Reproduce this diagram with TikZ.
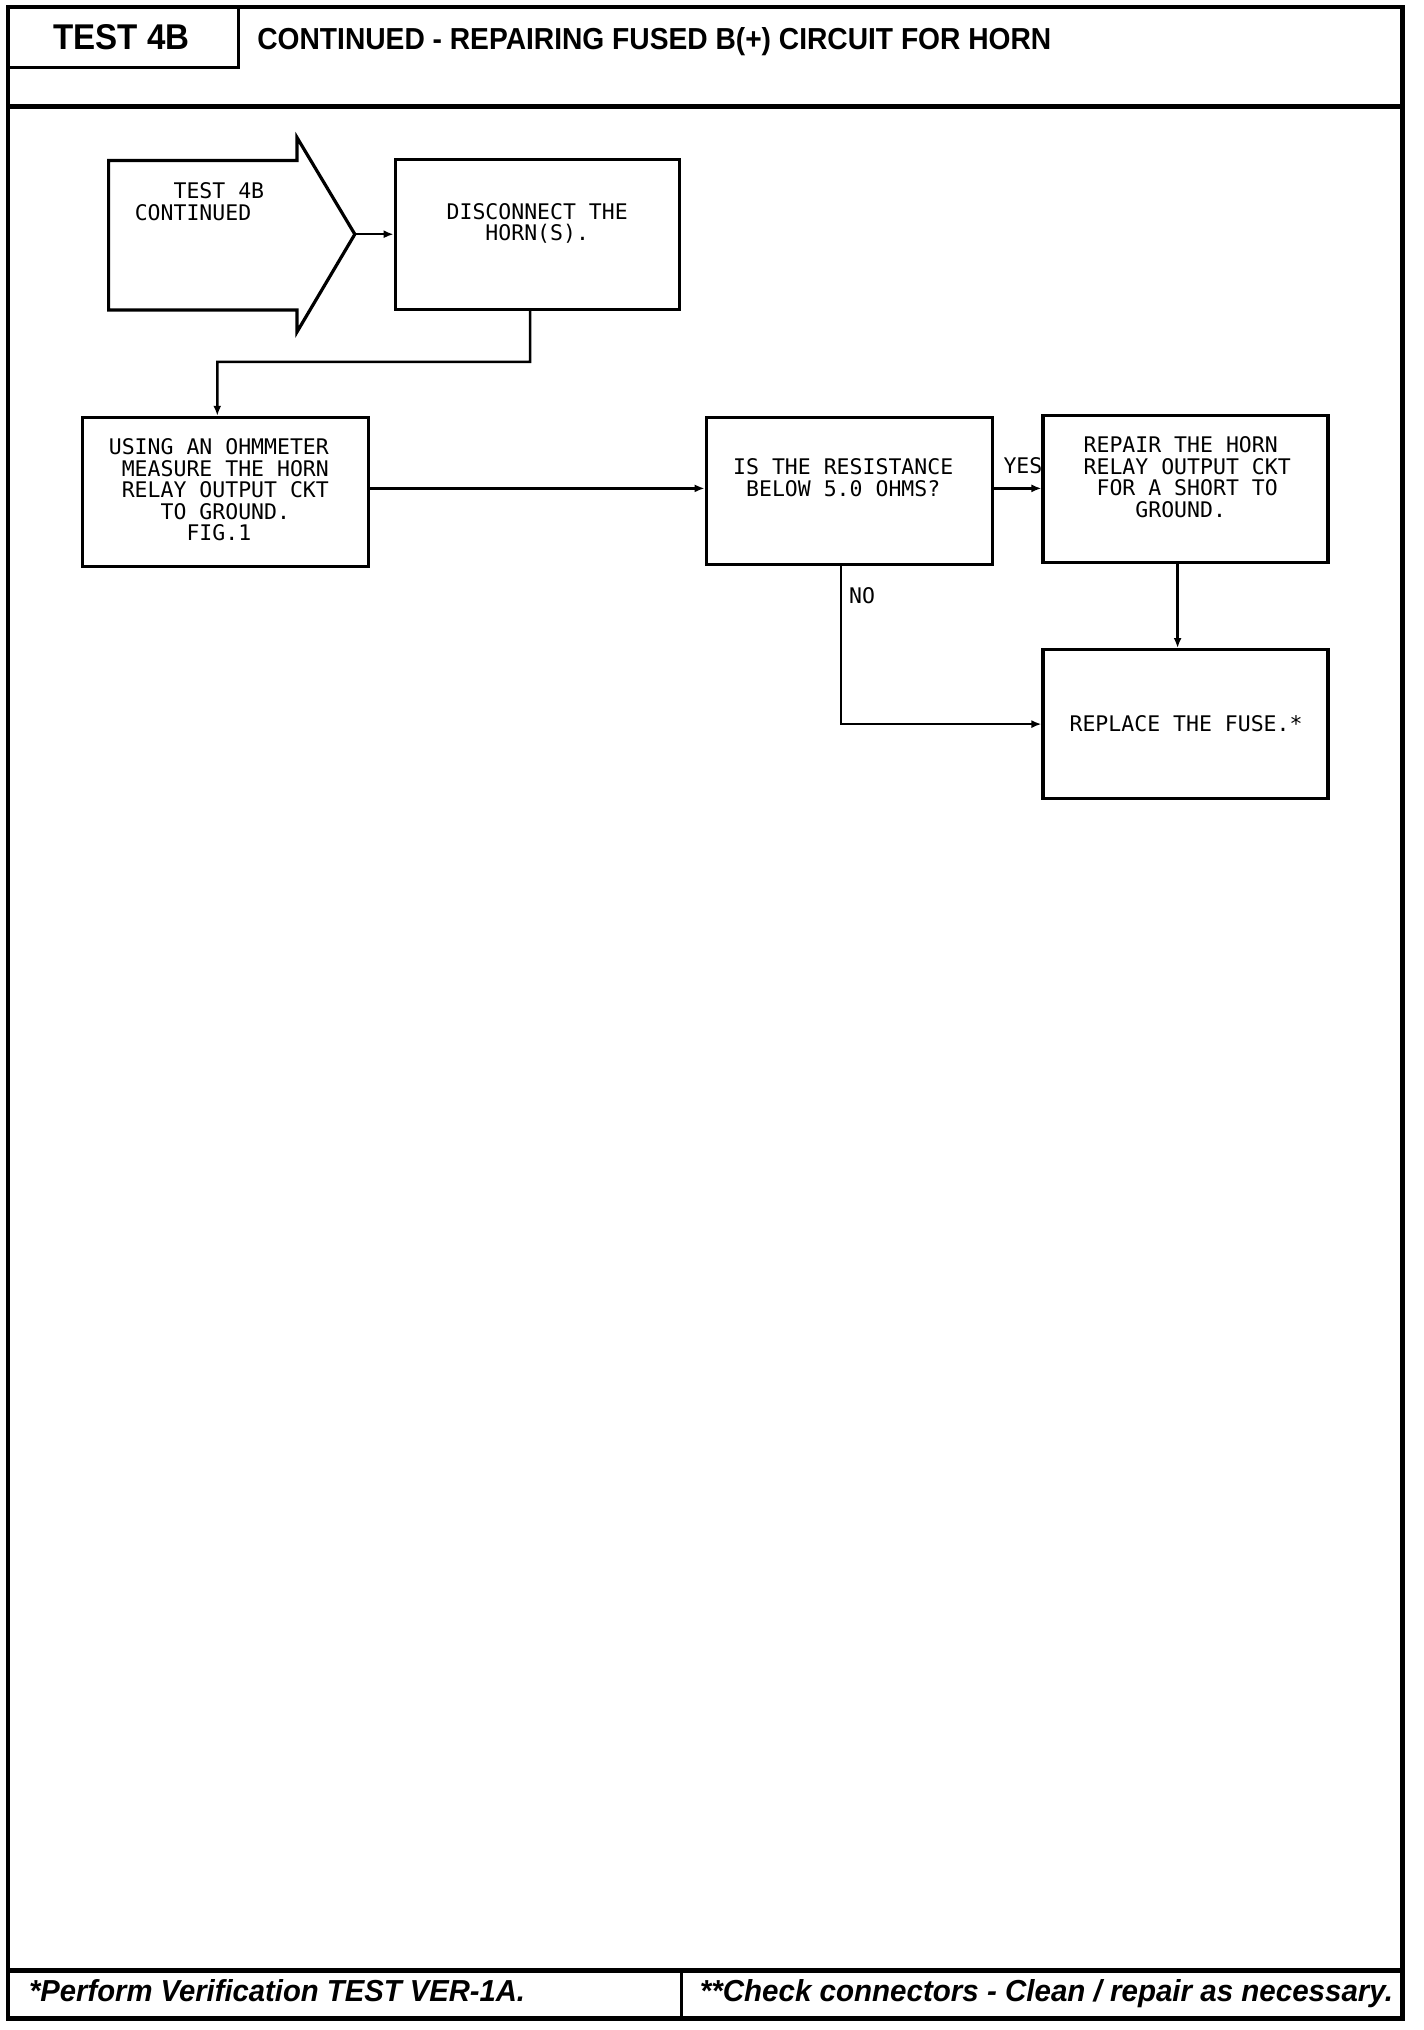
\documentclass[tikz,border=0pt]{standalone}
\usepackage{fontspec}
\usepackage{graphicx}
\usetikzlibrary{arrows.meta}
\newfontfamily\plotfont{DejaVu Sans Mono}
\newfontfamily\hdfont{Liberation Sans}
\begin{document}
\begin{tikzpicture}[x=1pt,y=-1pt,
  frame/.style={line width=4.5pt},
  box/.style={draw, line width=3.2pt, inner sep=0pt},
  conn/.style={line width=2.5pt, -{Latex[length=10pt,width=8pt]}},
  ptext/.style={font=\plotfont\fontsize{21.5}{21.5}\selectfont, align=center, inner sep=0pt},
  hd/.style={inner sep=0pt}
]
\useasboundingbox (0,0) rectangle (1424,2030);
\fill[white] (0,0) rectangle (1424,2030);
\begin{scope}[scale=0.9967]
% page frame
\draw[frame] (8,7) rectangle (1407,2025);
\draw[frame] (8,107) -- (1407,107);
\draw[frame] (8,1977) -- (1407,1977);
\draw[line width=3pt] (684,1977) -- (684,2025);
\draw[line width=3pt] (8,68) -| (239,7);
% header and footer texts
\node[hd, anchor=base] (hdtest) at (122,50) {\resizebox{136pt}{25pt}{\hdfont\bfseries TEST 4B}};
\node[hd, anchor=base west] (title) at (258,50) {\resizebox{794pt}{22pt}{\hdfont\bfseries CONTINUED - REPAIRING FUSED B(+) CIRCUIT FOR HORN}};
\node[hd, anchor=base west] (foot1) at (29,2008) {\resizebox{496pt}{22pt}{\hdfont\bfseries\itshape *Perform Verification TEST VER-1A.}};
\node[hd, anchor=base west] (foot2) at (702,2008) {\resizebox{693pt}{22pt}{\hdfont\bfseries\itshape **Check connectors - Clean / repair as necessary.}};
% start arrow
\draw[box] (109,161) -- (298,161) -- (298,138) -- (356,235) -- (298,333) -- (298,311) -- (109,311) -- cycle;
\coordinate (tip) at (356,235);
\node[ptext, align=left, anchor=north west] (starttext) at (135,183) {\phantom{XXX}TEST 4B\\CONTINUED};
% boxes
\node[box, minimum width=284pt, minimum height=150pt] (disc) at (539,235) {};
\node[box, minimum width=286pt, minimum height=149pt] (using) at (226,493.5) {};
\node[box, minimum width=286pt, minimum height=147pt] (is) at (852,492.5) {};
\node[box, minimum width=285pt, minimum height=147pt] (repair) at (1189.5,490.5) {};
\node[box, minimum width=285pt, minimum height=149pt] (replace) at (1189.5,726.5) {};
% box texts
\node[ptext, anchor=north] (disct) at (539,204) {DISCONNECT THE\\HORN(S).};
\node[ptext, align=left, anchor=north west] (usingt) at (109,440) {USING AN OHMMETER\\\phantom{X}MEASURE THE HORN\\\phantom{X}RELAY OUTPUT CKT\\\phantom{XXXX}TO GROUND.\\\phantom{XXXXXX}FIG.1};
\node[ptext, anchor=north] (ist) at (846,460) {IS THE RESISTANCE\\BELOW 5.0 OHMS?};
\node[ptext, align=left, anchor=north west] (repairt) at (1087,438) {REPAIR THE HORN\\RELAY OUTPUT CKT\\\phantom{X}FOR A SHORT TO\\\phantom{XXXX}GROUND.};
\node[ptext] (replacet) at (1190,726) {REPLACE THE FUSE.*};
% connectors
\coordinate (bend) at (218,363);
\coordinate (row) at (0,490);
\draw[conn] (tip) -- (disc.west);
\draw[conn] ([xshift=-7pt]disc.south) |- (bend) -- ([xshift=-8pt]using.north);
\draw[conn] (using.east |- row) -- (is.west |- row);
\draw[conn] (is.east |- row) -- (repair.west |- row);
\draw[conn] ([xshift=-8pt]repair.south) -- ([xshift=-8pt]replace.north);
\draw[conn] ([xshift=-8pt]is.south) |- (replace.west);
% labels
\node[ptext, anchor=east] (yes) at (1046,467) {YES};
\node[ptext] (no) at (865,598) {NO};
\end{scope}
\end{tikzpicture}
\end{document}
